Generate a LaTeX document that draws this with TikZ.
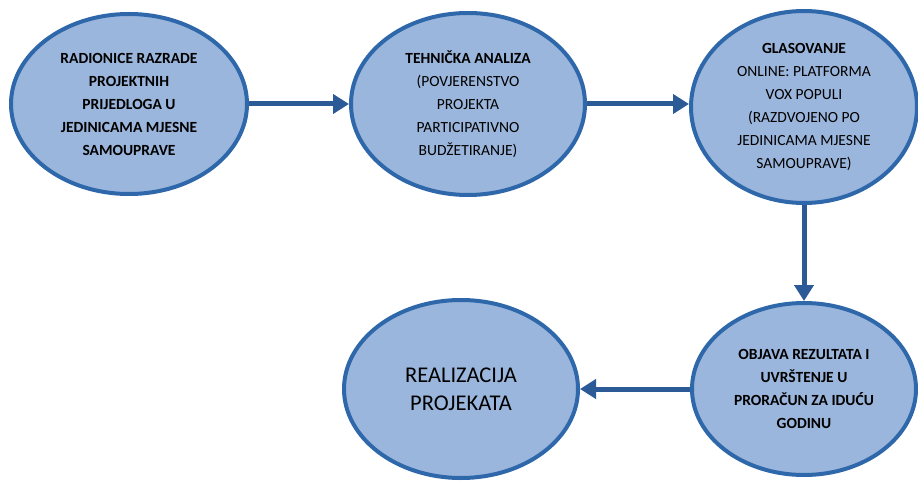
\documentclass[tikz,border=0pt]{standalone}
\usepackage{fontspec}
\setmainfont{Carlito}
\usetikzlibrary{positioning,arrows.meta,shapes.geometric}
\definecolor{stepfill}{RGB}{155,182,220}
\definecolor{stepline}{RGB}{46,104,170}
\definecolor{flowline}{RGB}{44,90,150}
\tikzset{>=latex}

\begin{document}
\begin{tikzpicture}[x=1pt, y=-1pt, shorten >=0pt,
    align=center, font=\fontsize{15.5}{23}\selectfont,
    stage/.style={ellipse, draw=stepline, fill=stepfill, line width=4pt, inner sep=0pt},
    flow/.style={draw=flowline, line width=5pt, -{Triangle[length=16pt,width=19pt]}}]
    \useasboundingbox (0,0) rectangle (918,481);

    \node [stage, minimum width=236pt, minimum height=180pt] (radionice) at (129,104)
        {\bfseries RADIONICE RAZRADE\\ \bfseries PROJEKTNIH\\ \bfseries PRIJEDLOGA U\\
         \bfseries JEDINICAMA MJESNE\\ \bfseries SAMOUPRAVE};
    \node [stage, minimum width=234pt, minimum height=182pt] (analiza) at (468,104)
        {\bfseries TEHNIČKA ANALIZA\\ (POVJERENSTVO\\ PROJEKTA\\ PARTICIPATIVNO\\ BUDŽETIRANJE)};
    \node [stage, minimum width=226pt, minimum height=192pt] (glasovanje) at (804,107)
        {\bfseries GLASOVANJE\\ ONLINE: PLATFORMA\\ VOX POPULI\\ (RAZDVOJENO PO\\
         JEDINICAMA MJESNE\\ SAMOUPRAVE)};
    \node [stage, minimum width=224pt, minimum height=172pt] (objava) at (804,389)
        {\bfseries OBJAVA REZULTATA I\\ \bfseries UVRŠTENJE U\\ \bfseries PRORAČUN ZA IDUĆU\\ \bfseries GODINU};
    \node [stage, minimum width=234pt, minimum height=178pt,
        font=\fontsize{22.5}{28}\selectfont] (realizacija) at (461,389)
        {REALIZACIJA\\ PROJEKATA};

    \draw [flow] (radionice.east) -- (radionice.east -| analiza.west);
    \draw [flow] (analiza.east) -- (analiza.east -| glasovanje.west);
    \draw [flow] (glasovanje) -- (objava);
    \draw [flow] (objava) -- (realizacija);

\end{tikzpicture}
\end{document}
